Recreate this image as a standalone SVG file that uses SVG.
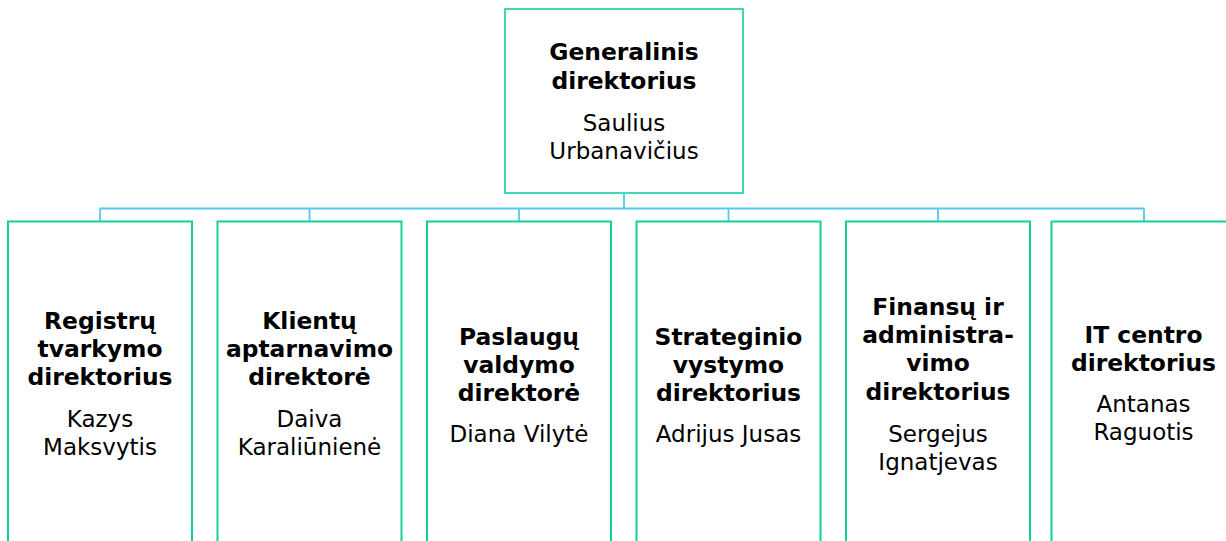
<svg xmlns="http://www.w3.org/2000/svg" width="1226" height="541" viewBox="0 0 1226 541">
<style>
.box{fill:#fff;stroke:#12d194;stroke-width:2}
.top{fill:#fff;stroke:#3fdab0;stroke-width:2}
.con{fill:none;stroke:#55c9ee;stroke-width:1.8}
text{font-family:"DejaVu Sans","Verdana",sans-serif;text-anchor:middle;fill:#000}
.b{font-weight:bold;font-size:23.4px}
.r{font-size:23px}
</style>
<rect width="1226" height="541" fill="#fff"/>
<g id="connectors">
<path class="con" d="M624 193V208.5M100 208.5H1144M100 208.5V221.5M309.5 208.5V221.5M519 208.5V221.5M728.5 208.5V221.5M938 208.5V221.5M1144 208.5V221.5"/>
</g>
<g id="n0">
<rect class="top" x="505" y="9" width="238" height="184"/>
<text x="624" y="60" class="b">Generalinis</text>
<text x="624" y="89" class="b">direktorius</text>
<text x="624" y="130.5" class="r">Saulius</text>
<text x="624" y="159" class="r">Urbanavičius</text>
</g>
<g id="n1">
<rect class="box" x="8" y="221.5" width="184" height="340"/>
<text x="100" y="328.7" class="b">Registrų</text>
<text x="100" y="357" class="b">tvarkymo</text>
<text x="100" y="385.3" class="b">direktorius</text>
<text x="100" y="427" class="r">Kazys</text>
<text x="100" y="455.3" class="r">Maksvytis</text>
</g>
<g id="n2">
<rect class="box" x="217.5" y="221.5" width="184" height="340"/>
<text x="309.5" y="328.7" class="b">Klientų</text>
<text x="309.5" y="357" class="b">aptarnavimo</text>
<text x="309.5" y="385.3" class="b">direktorė</text>
<text x="309.5" y="427" class="r">Daiva</text>
<text x="309.5" y="455.3" class="r">Karaliūnienė</text>
</g>
<g id="n3">
<rect class="box" x="427" y="221.5" width="184" height="340"/>
<text x="519" y="344.5" class="b">Paslaugų</text>
<text x="519" y="372.8" class="b">valdymo</text>
<text x="519" y="401.1" class="b">direktorė</text>
<text x="519" y="442" class="r">Diana Vilytė</text>
</g>
<g id="n4">
<rect class="box" x="636.5" y="221.5" width="184" height="340"/>
<text x="728.5" y="344.5" class="b">Strateginio</text>
<text x="728.5" y="372.8" class="b">vystymo</text>
<text x="728.5" y="401.1" class="b">direktorius</text>
<text x="728.5" y="442" class="r">Adrijus Jusas</text>
</g>
<g id="n5">
<rect class="box" x="846" y="221.5" width="184" height="340"/>
<text x="938" y="314.8" class="b">Finansų ir</text>
<text x="938" y="343.1" class="b">administra-</text>
<text x="938" y="371.4" class="b">vimo</text>
<text x="938" y="399.7" class="b">direktorius</text>
<text x="938" y="441.5" class="r">Sergejus</text>
<text x="938" y="469.8" class="r">Ignatjevas</text>
</g>
<g id="n6">
<rect class="box" x="1051.5" y="221.5" width="184" height="340"/>
<text x="1143.5" y="343" class="b">IT centro</text>
<text x="1143.5" y="371.3" class="b">direktorius</text>
<text x="1143.5" y="411.7" class="r">Antanas</text>
<text x="1143.5" y="440" class="r">Raguotis</text>
</g>
</svg>
